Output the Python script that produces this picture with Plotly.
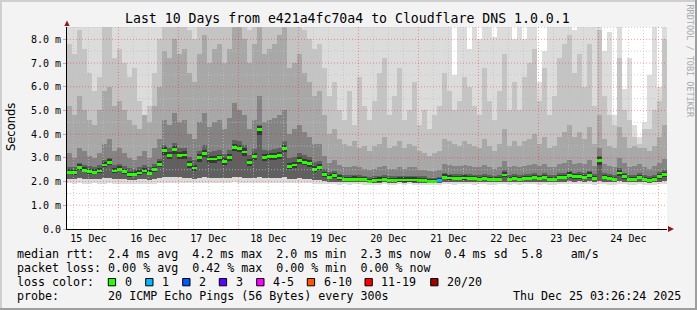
import numpy as np
import pandas as pd
import plotly.graph_objects as go

# ---------------- data ----------------
start_time = "2025-12-15 03:26:24"
end_time = "2025-12-25 03:26:24"
bin_hours = 2  # each value below covers 2 hours (120 bins over 10 days)

median_rtt_ms = [
    2.39, 2.38, 2.60, 2.48, 2.42, 2.39, 2.45, 2.70, 2.80, 2.45,
    2.52, 2.42, 2.30, 2.31, 2.36, 2.45, 2.35, 2.50, 2.72, 3.30,
    3.10, 3.35, 3.10, 3.12, 2.72, 2.57, 3.00, 3.20, 2.95, 2.95,
    3.00, 2.85, 3.00, 3.45, 3.40, 3.25, 2.80, 3.05, 4.20, 3.00,
    3.05, 3.05, 3.10, 3.40, 2.64, 2.70, 2.90, 2.82, 2.75, 2.52,
    2.60, 2.30, 2.18, 2.25, 2.15, 2.10, 2.10, 2.10, 2.10, 2.08,
    2.02, 2.05, 2.07, 2.10, 2.05, 2.05, 2.07, 2.07, 2.07, 2.07,
    2.05, 2.05, 2.00, 2.00, 2.03, 2.18, 2.15, 2.12, 2.12, 2.15,
    2.13, 2.12, 2.10, 2.13, 2.10, 2.08, 2.10, 2.28, 2.10, 2.13,
    2.10, 2.12, 2.13, 2.17, 2.12, 2.17, 2.08, 2.08, 2.17, 2.17,
    2.27, 2.20, 2.22, 2.17, 2.27, 2.13, 2.90, 2.17, 2.12, 2.08,
    2.36, 2.20, 2.10, 2.10, 2.17, 2.08, 2.05, 2.10, 2.20, 2.30,
]

loss_of_20 = [
    0, 0, 0, 0, 0, 0, 0, 0, 0, 0,
    0, 0, 0, 0, 0, 0, 0, 0, 0, 0,
    0, 0, 0, 0, 0, 0, 0, 0, 0, 0,
    0, 0, 0, 0, 0, 0, 0, 0, 0, 0,
    0, 0, 0, 0, 0, 0, 0, 0, 0, 0,
    0, 0, 0, 0, 0, 0, 0, 0, 0, 0,
    0, 0, 0, 0, 0, 0, 0, 0, 0, 0,
    0, 0, 0, 0, 1, 0, 0, 0, 0, 0,
    0, 0, 0, 0, 0, 0, 0, 0, 0, 0,
    0, 0, 0, 0, 0, 0, 0, 0, 0, 0,
    0, 0, 0, 0, 0, 0, 0, 0, 0, 0,
    0, 0, 0, 0, 0, 0, 0, 0, 0, 0,
]

# smoke: fastest ping
smoke_min_ms = [
    1.92, 1.90, 1.92, 1.91, 1.90, 1.92, 1.91, 1.90, 1.92, 1.91,
    1.90, 1.91, 1.89, 1.88, 1.90, 1.91, 1.89, 1.90, 1.92, 1.95,
    1.94, 1.96, 1.95, 1.94, 1.92, 1.93, 1.95, 1.96, 1.94, 1.95,
    1.94, 1.93, 1.95, 1.97, 1.96, 1.95, 1.93, 1.95, 1.96, 1.94,
    1.95, 1.94, 1.96, 1.95, 1.93, 1.92, 1.94, 1.93, 1.92, 1.91,
    1.90, 1.89, 1.88, 1.88, 1.87, 1.88, 1.87, 1.88, 1.88, 1.87,
    1.86, 1.87, 1.87, 1.88, 1.87, 1.87, 1.88, 1.87, 1.88, 1.87,
    1.86, 1.86, 1.84, 1.84, 1.85, 1.88, 1.88, 1.87, 1.88, 1.88,
    1.88, 1.87, 1.88, 1.88, 1.87, 1.87, 1.88, 1.89, 1.87, 1.88,
    1.87, 1.88, 1.88, 1.89, 1.87, 1.88, 1.87, 1.87, 1.88, 1.88,
    1.89, 1.88, 1.88, 1.88, 1.89, 1.87, 1.90, 1.88, 1.87, 1.87,
    1.89, 1.88, 1.87, 1.87, 1.88, 1.87, 1.86, 1.87, 1.88, 1.89,
]

# smoke: lower edge of the middle pings
smoke_low_ms = [
    2.12, 2.10, 2.14, 2.12, 2.10, 2.12, 2.12, 2.14, 2.15, 2.12,
    2.12, 2.10, 2.08, 2.08, 2.10, 2.12, 2.08, 2.10, 2.14, 2.18,
    2.18, 2.20, 2.18, 2.16, 2.14, 2.12, 2.16, 2.18, 2.16, 2.17,
    2.16, 2.14, 2.16, 2.20, 2.18, 2.17, 2.14, 2.16, 2.20, 2.15,
    2.16, 2.15, 2.17, 2.18, 2.12, 2.12, 2.14, 2.12, 2.10, 2.08,
    2.06, 2.02, 2.00, 2.00, 1.98, 1.98, 1.97, 1.98, 1.98, 1.97,
    1.95, 1.96, 1.96, 1.97, 1.96, 1.96, 1.97, 1.96, 1.97, 1.96,
    1.95, 1.95, 1.93, 1.93, 1.94, 1.99, 1.99, 1.98, 1.98, 1.99,
    1.99, 1.98, 1.98, 1.99, 1.98, 1.97, 1.98, 2.00, 1.98, 1.99,
    1.98, 1.99, 1.99, 2.00, 1.98, 2.00, 1.97, 1.97, 2.00, 2.00,
    2.02, 2.00, 2.01, 2.00, 2.02, 1.99, 2.02, 2.00, 1.98, 1.97,
    2.02, 2.00, 1.98, 1.98, 2.00, 1.97, 1.96, 1.98, 2.00, 2.02,
]

# smoke: lower edge of the pings closest to the median
smoke_core_low_ms = [
    2.30, 2.29, 2.50, 2.39, 2.33, 2.30, 2.36, 2.60, 2.68, 2.36,
    2.43, 2.33, 2.21, 2.22, 2.27, 2.36, 2.26, 2.41, 2.60, 3.12,
    2.94, 3.18, 2.94, 2.96, 2.58, 2.45, 2.84, 3.03, 2.80, 2.80,
    2.85, 2.70, 2.85, 3.28, 3.23, 3.09, 2.66, 2.90, 3.95, 2.85,
    2.90, 2.90, 2.94, 3.23, 2.52, 2.58, 2.76, 2.68, 2.62, 2.42,
    2.50, 2.21, 2.10, 2.16, 2.07, 2.03, 2.03, 2.03, 2.03, 2.01,
    1.96, 1.99, 2.00, 2.03, 1.99, 1.99, 2.00, 2.00, 2.00, 2.00,
    1.99, 1.99, 1.95, 1.95, 1.97, 2.10, 2.08, 2.05, 2.05, 2.08,
    2.06, 2.05, 2.03, 2.06, 2.03, 2.01, 2.03, 2.18, 2.03, 2.06,
    2.03, 2.05, 2.06, 2.09, 2.05, 2.09, 2.01, 2.01, 2.09, 2.09,
    2.17, 2.12, 2.13, 2.09, 2.17, 2.06, 2.70, 2.09, 2.05, 2.01,
    2.25, 2.12, 2.03, 2.03, 2.09, 2.01, 1.98, 2.03, 2.12, 2.20,
]

# smoke: upper edges of nested ping bands (darkest to lightest)
smoke_core_ms = [
    2.52, 2.50, 2.73, 2.60, 2.54, 2.51, 2.58, 2.84, 2.94, 2.58,
    2.65, 2.55, 2.42, 2.43, 2.48, 2.58, 2.47, 2.63, 2.86, 3.45,
    3.25, 3.50, 3.24, 3.27, 2.86, 2.70, 3.15, 3.35, 3.09, 3.10,
    3.14, 2.99, 3.15, 3.60, 3.55, 3.40, 2.94, 3.20, 4.35, 3.15,
    3.20, 3.20, 3.25, 3.55, 2.78, 2.84, 3.05, 2.96, 2.89, 2.65,
    2.74, 2.42, 2.30, 2.37, 2.27, 2.21, 2.21, 2.22, 2.21, 2.19,
    2.13, 2.16, 2.18, 2.21, 2.16, 2.16, 2.18, 2.18, 2.18, 2.18,
    2.16, 2.16, 2.11, 2.11, 2.14, 2.30, 2.26, 2.23, 2.23, 2.26,
    2.24, 2.23, 2.21, 2.24, 2.21, 2.19, 2.21, 2.40, 2.21, 2.24,
    2.21, 2.23, 2.24, 2.29, 2.23, 2.28, 2.19, 2.19, 2.28, 2.29,
    2.39, 2.31, 2.33, 2.28, 2.39, 2.24, 3.05, 2.28, 2.23, 2.19,
    2.48, 2.31, 2.21, 2.21, 2.28, 2.19, 2.16, 2.21, 2.32, 2.42,
]

smoke_p60_ms = [
    2.62, 2.60, 2.80, 2.70, 2.66, 2.62, 2.70, 2.92, 3.00, 2.70,
    2.76, 2.66, 2.56, 2.55, 2.62, 2.70, 2.60, 2.76, 2.96, 3.55,
    3.40, 3.62, 3.40, 3.42, 3.05, 2.90, 3.30, 3.55, 3.25, 3.28,
    3.32, 3.18, 3.32, 3.75, 3.70, 3.55, 3.12, 3.38, 4.40, 3.32,
    3.35, 3.38, 3.40, 3.70, 2.98, 3.02, 3.20, 3.12, 3.05, 2.82,
    2.88, 2.55, 2.40, 2.45, 2.34, 2.28, 2.27, 2.28, 2.27, 2.25,
    2.20, 2.23, 2.24, 2.28, 2.22, 2.23, 2.25, 2.24, 2.24, 2.25,
    2.22, 2.22, 2.17, 2.17, 2.20, 2.36, 2.33, 2.30, 2.30, 2.33,
    2.30, 2.29, 2.27, 2.31, 2.27, 2.25, 2.28, 2.48, 2.27, 2.30,
    2.27, 2.30, 2.31, 2.35, 2.29, 2.35, 2.26, 2.26, 2.35, 2.36,
    2.46, 2.38, 2.40, 2.35, 2.46, 2.31, 3.10, 2.35, 2.30, 2.26,
    2.56, 2.38, 2.28, 2.28, 2.36, 2.26, 2.23, 2.28, 2.40, 2.50,
]

smoke_p70_ms = [
    3.2, 3.0, 3.4, 3.3, 3.1, 3.0, 3.2, 3.6, 3.8, 3.3,
    3.4, 3.2, 3.0, 2.9, 3.1, 3.3, 3.0, 3.4, 3.8, 4.6,
    4.4, 4.9, 4.5, 4.6, 4.0, 3.8, 4.5, 4.9, 4.3, 4.5,
    4.6, 4.2, 4.7, 5.3, 5.0, 4.8, 4.2, 4.6, 5.6, 4.5,
    4.6, 4.7, 4.8, 5.0, 4.0, 4.2, 4.4, 4.1, 3.9, 3.6,
    3.6, 3.1, 2.8, 2.9, 2.7, 2.6, 2.6, 2.65, 2.6, 2.55,
    2.5, 2.55, 2.6, 2.65, 2.55, 2.55, 2.6, 2.55, 2.6, 2.6,
    2.5, 2.5, 2.45, 2.45, 2.5, 2.75, 2.7, 2.65, 2.65, 2.7,
    2.65, 2.6, 2.6, 2.7, 2.6, 2.55, 2.6, 2.85, 2.6, 2.65,
    2.6, 2.65, 2.7, 2.75, 2.65, 2.75, 2.6, 2.6, 2.75, 2.8,
    2.9, 2.75, 2.8, 2.75, 2.9, 2.65, 3.4, 2.75, 2.65, 2.6,
    3.0, 2.8, 2.6, 2.65, 2.75, 2.6, 2.55, 2.65, 2.8, 2.95,
]

smoke_p85_ms = [
    5.2, 4.8, 5.6, 5.0, 4.6, 4.4, 5.0, 5.8, 6.0, 5.2,
    5.4, 5.0, 4.6, 4.4, 4.2, 4.8, 4.5, 5.2, 6.0, 7.5,
    7.2, 8.0, 7.4, 7.6, 6.6, 6.2, 7.4, 8.2, 7.0, 7.6,
    7.8, 7.0, 7.6, 9.0, 8.6, 8.0, 7.0, 7.8, 9.0, 7.4,
    7.6, 7.8, 8.2, 8.6, 6.8, 7.0, 7.4, 6.6, 6.2, 5.6,
    5.8, 4.8, 4.0, 4.2, 3.8, 3.6, 3.5, 3.7, 3.4, 3.5,
    3.3, 3.5, 3.6, 3.9, 3.4, 3.5, 3.7, 3.4, 3.6, 3.5,
    3.3, 3.2, 3.1, 3.2, 3.3, 3.8, 3.7, 3.6, 3.5, 3.7,
    3.6, 3.5, 3.4, 3.8, 3.5, 3.3, 3.6, 4.2, 3.5, 3.7,
    3.5, 3.7, 3.8, 4.0, 3.6, 3.9, 3.4, 3.5, 3.9, 4.1,
    4.4, 3.9, 4.1, 3.8, 4.3, 3.6, 4.8, 3.8, 3.5, 3.4,
    4.3, 3.9, 3.4, 3.5, 3.4, 3.4, 3.3, 3.5, 3.9, 4.4,
]

smoke_p95_ms = [
    7.8, 7.4, 8.4, 7.6, 6.6, 5.8, 6.4, 8.6, 9.0, 7.2,
    7.6, 7.0, 6.4, 6.8, 5.4, 4.8, 5.2, 6.6, 8.0, 9.0,
    9.0, 9.0, 9.0, 9.0, 8.4, 8.0, 9.0, 9.0, 8.6, 9.0,
    9.0, 8.6, 9.0, 9.0, 9.0, 9.0, 8.4, 9.0, 9.0, 8.8,
    9.0, 9.0, 9.0, 9.0, 8.6, 8.8, 9.0, 8.4, 8.0, 7.6,
    7.8, 6.8, 5.6, 6.2, 5.0, 4.6, 5.8, 4.4, 6.4, 5.2,
    4.6, 5.4, 6.6, 7.2, 4.8, 5.6, 6.8, 4.6, 5.0, 6.2,
    4.4, 5.0, 4.2, 4.8, 5.2, 6.6, 5.8, 5.0, 5.4, 6.4,
    6.0, 5.2, 4.8, 6.8, 5.4, 4.6, 5.8, 7.4, 5.0, 6.2,
    5.0, 6.4, 7.0, 7.6, 5.4, 6.8, 4.8, 5.6, 7.2, 7.8,
    8.2, 6.6, 7.4, 6.0, 7.8, 5.2, 8.4, 5.6, 4.8, 4.4,
    7.2, 5.0, 4.6, 3.9, 3.6, 4.2, 4.2, 5.0, 5.4, 8.0,
]

smoke_max_ms = [
    9.0, 9.0, 9.0, 9.0, 9.0, 9.0, 9.0, 9.0, 9.0, 9.0,
    9.0, 9.0, 9.0, 9.0, 9.0, 9.0, 9.0, 9.0, 9.0, 9.0,
    9.0, 9.0, 9.0, 9.0, 9.0, 9.0, 9.0, 9.0, 9.0, 9.0,
    9.0, 9.0, 9.0, 9.0, 9.0, 9.0, 9.0, 9.0, 9.0, 9.0,
    9.0, 9.0, 9.0, 9.0, 9.0, 9.0, 9.0, 9.0, 9.0, 9.0,
    9.0, 9.0, 9.0, 9.0, 9.0, 9.0, 9.0, 9.0, 9.0, 9.0,
    9.0, 9.0, 9.0, 9.0, 9.0, 9.0, 9.0, 9.0, 9.0, 9.0,
    9.0, 9.0, 9.0, 9.0, 9.0, 9.0, 9.0, 6.5, 9.0, 9.0,
    7.6, 9.0, 8.0, 9.0, 9.0, 8.1, 9.0, 9.0, 9.0, 8.0,
    9.0, 8.0, 9.0, 9.0, 6.2, 7.5, 9.0, 9.0, 9.0, 9.0,
    9.0, 8.4, 9.0, 9.0, 9.0, 9.0, 9.0, 7.5, 8.3, 4.8,
    9.0, 5.9, 7.2, 4.4, 3.9, 4.5, 6.5, 8.5, 6.0, 9.0,
]

day_labels = ["15 Dec", "16 Dec", "17 Dec", "18 Dec", "19 Dec",
              "20 Dec", "21 Dec", "22 Dec", "23 Dec", "24 Dec"]
y_tick_values = [0, 1, 2, 3, 4, 5, 6, 7, 8]
y_tick_labels = ["0.0", "1.0 m", "2.0 m", "3.0 m", "4.0 m",
                 "5.0 m", "6.0 m", "7.0 m", "8.0 m"]
loss_legend_labels = ["0", "1", "2", "3", "4-5", "6-10", "11-19", "20/20"]
loss_legend_colors = ["#26ff00", "#00b8ff", "#0059ff", "#5e00ff",
                      "#ff00ff", "#ff5500", "#ff0000", "#a00000"]
loss_legend_upper = [0, 1, 2, 3, 5, 10, 19, 20]

title_text = "Last 10 Days from e421a4fc70a4 to Cloudflare DNS 1.0.0.1"
line_rtt = "median rtt:  2.4 ms avg  4.2 ms max  2.0 ms min  2.3 ms now  0.4 ms sd  5.8    am/s"
line_loss = "packet loss: 0.00 % avg  0.42 % max  0.00 % min  0.00 % now"
line_lc = "loss color:"
line_probe = "probe:       20 ICMP Echo Pings (56 Bytes) every 300s"
stamp_text = "Thu Dec 25 03:26:24 2025"
watermark = "RRDTOOL / TOBI OETIKER"

# ---------------- geometry / style ----------------
W, H = 697, 310
ML, MR, MT, MB = 67, 30, 27, 81
PW, PH = W - ML - MR, H - MT - MB
Y_MAX = 8.52
MONO = "DejaVu Sans Mono"


def px(xp):
    return (xp - ML) / PW


def py(yp):
    return (H - MB - yp) / PH


t0 = pd.Timestamp(start_time)
t1 = pd.Timestamp(end_time)
n = len(median_rtt_ms)
bin_ms = bin_hours * 3600 * 1000
centers = [t0 + pd.Timedelta(hours=bin_hours * (i + 0.5)) for i in range(n)]

fig = go.Figure()


def band(lo, hi, color):
    lo = np.asarray(lo, dtype=float)
    hi = np.asarray(hi, dtype=float)
    fig.add_trace(go.Bar(x=centers, y=hi - lo, base=lo, width=bin_ms,
                         marker=dict(color=color, line=dict(width=0)),
                         hoverinfo="skip", showlegend=False))


band(smoke_min_ms, smoke_max_ms, "#dcdcdc")
band(smoke_low_ms, smoke_p95_ms, "#c4c4c4")
band(smoke_low_ms, smoke_p85_ms, "#a8a8a8")
band(smoke_low_ms, smoke_p70_ms, "#848484")
band(smoke_low_ms, smoke_p60_ms, "#606060")
band(smoke_core_low_ms, smoke_core_ms, "#383838")


def loss_color(v):
    for up, c in zip(loss_legend_upper, loss_legend_colors):
        if v <= up:
            return c
    return loss_legend_colors[-1]


med = np.asarray(median_rtt_ms)
half = 1.4 * Y_MAX / PH
fig.add_trace(go.Bar(x=centers, y=[2 * half] * n, base=med - half, width=bin_ms,
                     marker=dict(color=[loss_color(v) for v in loss_of_20], line=dict(width=0)),
                     hoverinfo="skip", showlegend=False))

shapes = []
# grid (drawn above the smoke, as rrdtool does)
minor_col = "rgba(192,192,192,0.75)"
major_col = "rgba(255,0,0,0.38)"
for t in pd.date_range("2025-12-15 06:00", "2025-12-25 00:00", freq="6h"):
    if t.hour != 0:
        shapes.append(dict(type="line", xref="x", yref="paper", x0=t, x1=t, y0=0, y1=1,
                           line=dict(color=minor_col, width=1, dash="1px,2px"), layer="above"))
for v in np.arange(0.5, 8.6, 1.0):
    shapes.append(dict(type="line", xref="paper", yref="y", x0=0, x1=1, y0=v, y1=v,
                       line=dict(color=minor_col, width=1, dash="1px,2px"), layer="above"))
for t in pd.date_range("2025-12-16", "2025-12-25", freq="D"):
    shapes.append(dict(type="line", xref="x", yref="paper", x0=t, x1=t, y0=0, y1=1,
                       line=dict(color=major_col, width=1, dash="1px,2px"), layer="above"))
for v in y_tick_values[1:]:
    shapes.append(dict(type="line", xref="paper", yref="y", x0=0, x1=1, y0=v, y1=v,
                       line=dict(color=major_col, width=1, dash="1px,2px"), layer="above"))


# frame shading
def prect(x0, y0, x1, y1, color, line=None):
    d = dict(type="rect", xref="paper", yref="paper", x0=px(x0), x1=px(x1),
             y0=py(y1), y1=py(y0), fillcolor=color, layer="above",
             line=line if line else dict(width=0))
    shapes.append(d)


prect(0, 0, W, 2, "#cfcfcf")
prect(0, 0, 2, H, "#cfcfcf")
prect(0, H - 2, W, H, "#9e9e9e")
prect(W - 2, 0, W, H, "#9e9e9e")

# axis arrows
arrow_col = "#8e1c1c"
shapes.append(dict(type="path", xref="paper", yref="paper", layer="above",
                   path=f"M {px(64.3)},{py(26)} L {px(67)},{py(20.5)} L {px(69.7)},{py(26)} Z",
                   fillcolor=arrow_col, line=dict(width=0)))
shapes.append(dict(type="path", xref="paper", yref="paper", layer="above",
                   path=f"M {px(668)},{py(226)} L {px(674)},{py(229)} L {px(668)},{py(232)} Z",
                   fillcolor=arrow_col, line=dict(width=0)))

# loss colour swatches
swatch_x = [108.3, 145.7, 182.7, 219.3, 256.7, 307.3, 365.0, 430.7]
for sx, c in zip(swatch_x, loss_legend_colors):
    prect(sx, 278.5, sx + 7.3, 285.8, c, line=dict(color="black", width=1))

annotations = []


def text(x, y, s, size=11.65, anchor="left", color="black", family=MONO, angle=0, yanchor="middle"):
    annotations.append(dict(x=px(x), y=py(y), xref="paper", yref="paper", text=s,
                            showarrow=False, xanchor=anchor, yanchor=yanchor,
                            textangle=angle,
                            font=dict(family=family, size=size, color=color)))


text(347.5, 19, title_text, size=13.2, anchor="center")
text(15, 254.3, line_rtt.replace(" ", "&nbsp;"))
text(15, 268.3, line_loss.replace(" ", "&nbsp;"))
text(15, 282.3, line_lc.replace(" ", "&nbsp;"))
for sx, lab in zip(swatch_x, loss_legend_labels):
    text(sx + 14.2, 282.3, lab)
text(15, 296.3, line_probe.replace(" ", "&nbsp;"))
text(683, 296.3, stamp_text.replace(" ", "&nbsp;"), anchor="right")
text(11, 127, "Seconds", size=11.5, anchor="center", family="DejaVu Sans", angle=-90)
text(689.5, 61, watermark.replace(" ", "&nbsp;"), size=8.5, anchor="center", color="#a8a8a8", angle=90)

day_noons = [pd.Timestamp("2025-12-15 12:00") + pd.Timedelta(days=i) for i in range(len(day_labels))]

fig.update_layout(
    width=W, height=H,
    margin=dict(l=ML, r=MR, t=MT, b=MB, pad=0),
    paper_bgcolor="#f3f3f3", plot_bgcolor="white",
    barmode="overlay", bargap=0,
    showlegend=False,
    shapes=shapes, annotations=annotations,
    xaxis=dict(type="date", range=[t0, t1], showgrid=False, zeroline=False,
               tickvals=day_noons, ticktext=day_labels, ticks="",
               showline=True, linecolor="black", linewidth=1,
               tickfont=dict(family=MONO, size=10, color="black"), fixedrange=True),
    yaxis=dict(range=[0, Y_MAX], showgrid=False, zeroline=False,
               tickvals=y_tick_values, ticktext=y_tick_labels,
               ticks="outside", ticklen=3, tickcolor="rgba(255,0,0,0.38)",
               showline=True, linecolor="black", linewidth=1,
               tickfont=dict(family=MONO, size=10, color="black"), fixedrange=True),
)

fig.write_html("out.html")
